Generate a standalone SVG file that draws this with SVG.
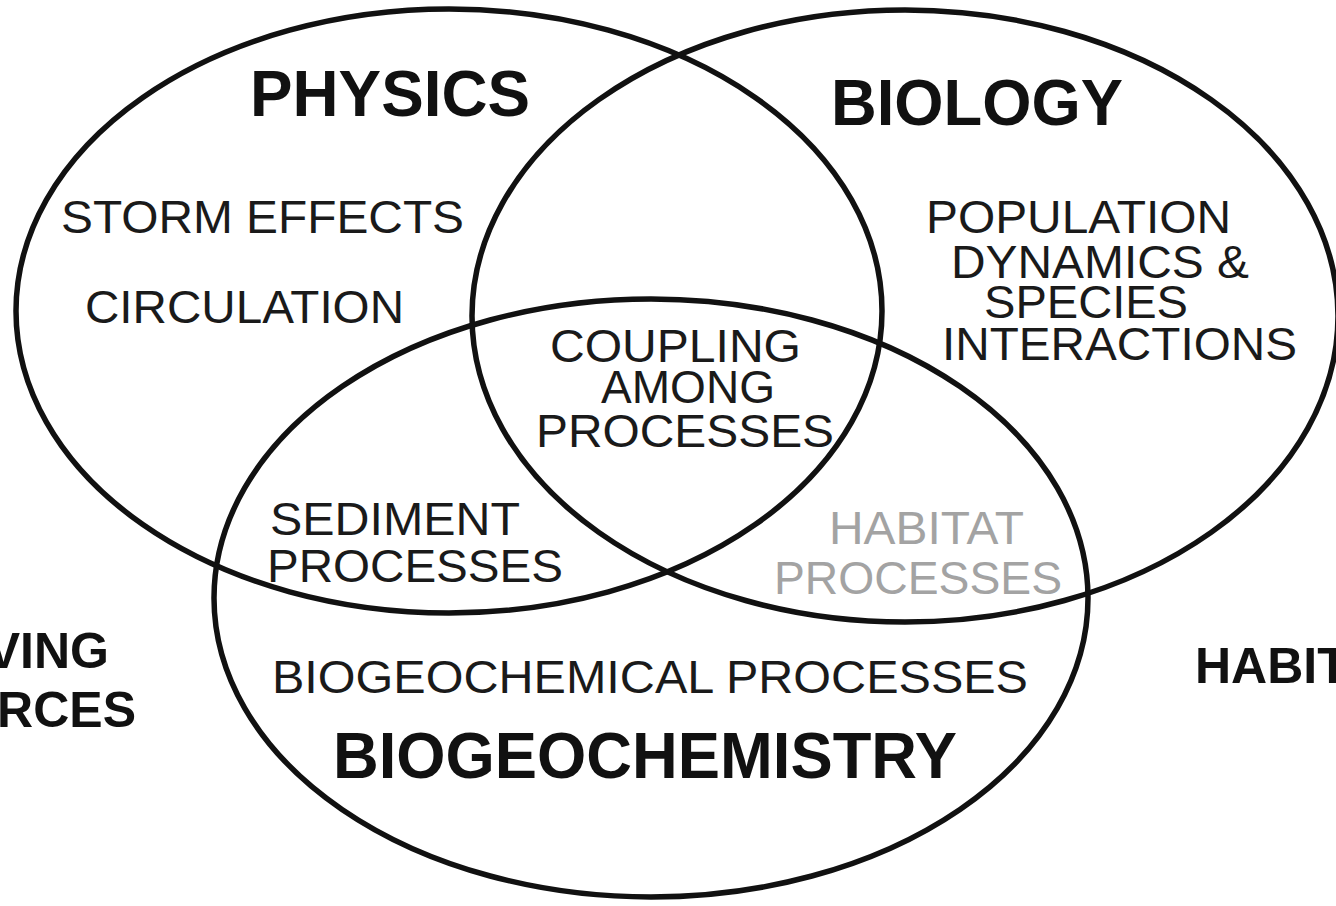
<svg xmlns="http://www.w3.org/2000/svg" width="1336" height="906" viewBox="0 0 1336 906">
  <style>
    .ring { fill: none; stroke: #111; stroke-width: 5.5; }
    .title { font-family: "Liberation Sans", Arial, sans-serif; font-weight: bold; fill: #111; }
    .label { font-family: "Liberation Sans", Arial, sans-serif; font-size: 46px; fill: #1a1a1a; }
    .faint { fill: #a3a3a3; }
    .mid { text-anchor: middle; }
  </style>
  <rect width="1336" height="906" fill="#ffffff"/>

  <!-- the three overlapping discipline rings -->
  <g id="physics">
    <ellipse class="ring" cx="449" cy="311" rx="433" ry="302"/>
    <text class="title" x="250" y="116" font-size="64" textLength="280" lengthAdjust="spacingAndGlyphs">PHYSICS</text>
    <text class="label" x="61" y="233" textLength="403" lengthAdjust="spacingAndGlyphs">STORM EFFECTS</text>
    <text class="label" x="85" y="323" textLength="319" lengthAdjust="spacingAndGlyphs">CIRCULATION</text>
  </g>

  <g id="biology">
    <ellipse class="ring" cx="905" cy="316" rx="433" ry="306"/>
    <text class="title" x="831" y="125" font-size="64" textLength="292" lengthAdjust="spacingAndGlyphs">BIOLOGY</text>
    <text class="label" x="926" y="233" textLength="305" lengthAdjust="spacingAndGlyphs">POPULATION</text>
    <text class="label" x="951" y="278" textLength="298" lengthAdjust="spacingAndGlyphs">DYNAMICS &amp;</text>
    <text class="label" x="984" y="318" textLength="204" lengthAdjust="spacingAndGlyphs">SPECIES</text>
    <text class="label" x="942" y="360" textLength="355" lengthAdjust="spacingAndGlyphs">INTERACTIONS</text>
  </g>

  <g id="biogeochemistry">
    <ellipse class="ring" cx="651" cy="598" rx="437" ry="299"/>
    <text class="label" x="272" y="693" textLength="756" lengthAdjust="spacingAndGlyphs">BIOGEOCHEMICAL PROCESSES</text>
    <text class="title" x="333" y="778" font-size="64" textLength="624" lengthAdjust="spacingAndGlyphs">BIOGEOCHEMISTRY</text>
  </g>

  <!-- overlap regions -->
  <g id="coupling">
    <text class="label" x="550" y="362" textLength="251" lengthAdjust="spacingAndGlyphs">COUPLING</text>
    <text class="label" x="601" y="403" textLength="174" lengthAdjust="spacingAndGlyphs">AMONG</text>
    <text class="label" x="536" y="447" textLength="298" lengthAdjust="spacingAndGlyphs">PROCESSES</text>
  </g>

  <g id="sediment">
    <text class="label" x="270" y="535" textLength="250" lengthAdjust="spacingAndGlyphs">SEDIMENT</text>
    <text class="label" x="267" y="582" textLength="296" lengthAdjust="spacingAndGlyphs">PROCESSES</text>
  </g>

  <g id="habitat-processes">
    <text class="label faint" x="829" y="544" textLength="195" lengthAdjust="spacingAndGlyphs">HABITAT</text>
    <text class="label faint" x="774" y="594" textLength="288" lengthAdjust="spacingAndGlyphs">PROCESSES</text>
  </g>

  <!-- outer labels running off the edges -->
  <g id="driving-forces">
    <text class="title" x="109" y="668" font-size="50" text-anchor="end">VING</text>
    <text class="title" x="136" y="727" font-size="50" text-anchor="end">RCES</text>
  </g>

  <g id="habitat">
    <text class="title" x="1195" y="683" font-size="50">HABIT</text>
  </g>
</svg>
